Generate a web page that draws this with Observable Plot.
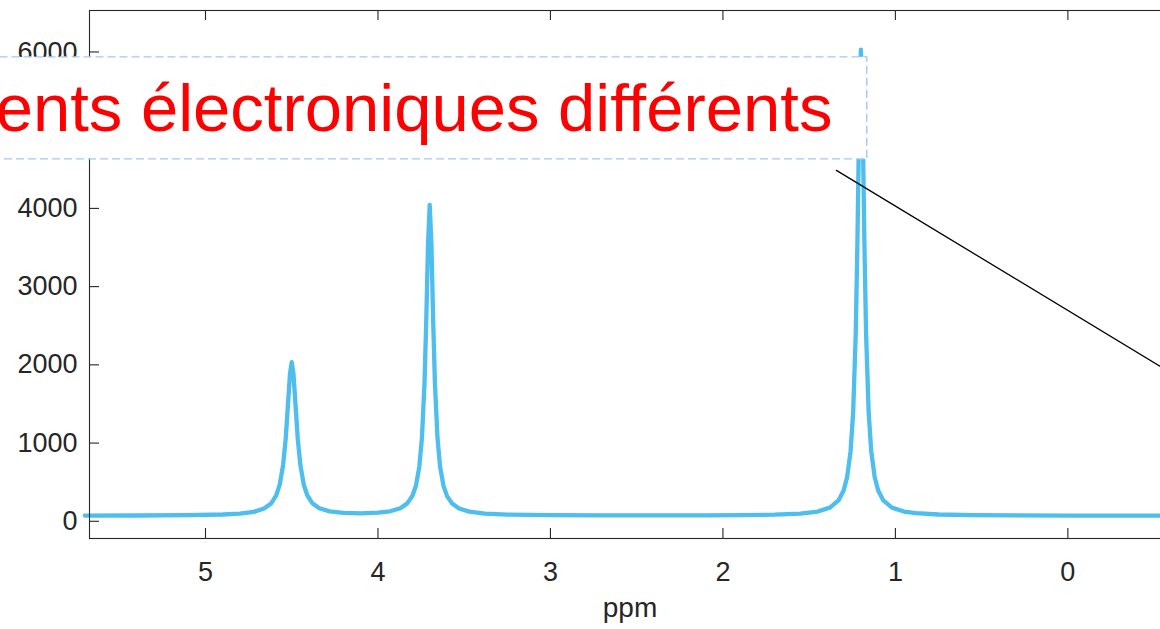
<!DOCTYPE html>
<html>
<head>
<meta charset="utf-8">
<script src="https://cdn.jsdelivr.net/npm/d3@7"></script>
<script src="https://cdn.jsdelivr.net/npm/@observablehq/plot@0.6"></script>
<style>
  html, body { margin: 0; padding: 0; background: #fff; overflow: hidden; }
  #chart { width: 1160px; height: 629px; overflow: hidden; }
  #chart svg { display: block; max-width: none !important; }
</style>
</head>
<body>
<div id="chart"></div>
<script>
// 1H NMR spectrum: chemical shift (ppm) and signal intensity
const ppm = [5.70, 5.4, 5.1, 4.9, 4.8, 4.72, 4.66, 4.62, 4.59, 4.57, 4.55, 4.535, 4.52, 4.51, 4.50,
  4.49, 4.48, 4.465, 4.45, 4.43, 4.41, 4.38, 4.34, 4.28, 4.2, 4.1, 4.0, 3.93, 3.87, 3.83, 3.80,
  3.78, 3.76, 3.745, 3.73, 3.72, 3.71, 3.70, 3.69, 3.68, 3.67, 3.655, 3.64, 3.62, 3.60, 3.57,
  3.53, 3.47, 3.38, 3.25, 3.0, 2.7, 2.4, 2.1, 1.9, 1.7, 1.55, 1.45, 1.38, 1.33, 1.30, 1.28,
  1.26, 1.245, 1.23, 1.22, 1.21, 1.20, 1.19, 1.18, 1.17, 1.155, 1.14, 1.12, 1.10, 1.07, 1.02,
  0.95, 0.88, 0.75, 0.55, 0.3, 0.0, -0.3, -0.6];
const intensity = [73, 74, 78, 87, 99, 121, 163, 227, 331, 466, 719, 1054, 1552, 1886, 2034,
  1887, 1552, 1055, 720, 467, 333, 230, 166, 127, 108, 102, 110, 128, 167, 229, 327,
  454, 703, 1068, 1777, 2568, 3533, 4044, 3533, 2568, 1777, 1068, 701, 453, 325, 226,
  164, 123, 99, 86, 78, 75, 75, 76, 78, 85, 99, 125, 175, 267, 395, 563,
  893, 1391, 2397, 3588, 5149, 6031, 5149, 3588, 2397, 1391, 893, 563, 395, 267, 175,
  125, 104, 87, 79, 75, 73, 72, 71];

// Axis ticks
const xTicks = [0, 1, 2, 3, 4, 5];
const yTicks = [0, 1000, 2000, 3000, 4000, 5000, 6000];
const xLabel = ["ppm"];

// Annotation: boxed caption and leader line, in data coordinates
const noteText = ["Environnements électroniques différents"];
const noteBoxPpm = [8, 1.163];
const noteBoxInt = [4627, 5931];
const noteTextAt = [1.365, 5260];
const leaderPpm = [1.342, -0.62];
const leaderInt = [4486, 1868];

const spectrum = ppm.map((p, i) => ({ppm: p, intensity: intensity[i]}));
const leader = leaderPpm.map((p, i) => ({ppm: p, intensity: leaderInt[i]}));
const box = [{x1: noteBoxPpm[0], x2: noteBoxPpm[1], y1: noteBoxInt[0], y2: noteBoxInt[1]}];

const font = "'Liberation Sans', Arial, Helvetica, sans-serif";
const ink = "#262626";
const W = 1180, H = 629, mL = 89, mR = 10, mT = 10, mB = 91;
const innerW = W - mL - mR, innerH = H - mT - mB, tickLen = 10;

const chart = Plot.plot({
  width: W,
  height: H,
  marginLeft: mL,
  marginRight: mR,
  marginTop: mT,
  marginBottom: mB,
  style: {fontFamily: font, fontSize: "27px", background: "#fff", color: ink},
  x: {domain: [5.6725, -0.595], label: null},
  y: {domain: [-220, 6530], label: null},
  marks: [
    Plot.line(spectrum, {x: "ppm", y: "intensity", stroke: "#4DBEEE", strokeWidth: 4.3, strokeLinejoin: "round"}),
    // box outline and inward ticks on all four sides
    Plot.frame({stroke: ink, strokeWidth: 1.1}),
    Plot.tickX(xTicks, {x: d => d, insetTop: innerH - tickLen, stroke: ink, strokeWidth: 1.1}),
    Plot.tickX(xTicks, {x: d => d, insetBottom: innerH - tickLen, stroke: ink, strokeWidth: 1.1}),
    Plot.tickY(yTicks, {y: d => d, insetRight: innerW - tickLen, stroke: ink, strokeWidth: 1.1}),
    Plot.tickY(yTicks, {y: d => d, insetLeft: innerW - tickLen, stroke: ink, strokeWidth: 1.1}),
    Plot.axisX({ticks: xTicks, tickSize: 0, tickPadding: 23, tickFormat: "d", label: null, fill: ink}),
    Plot.axisY({ticks: yTicks, tickSize: 0, tickPadding: 12, tickFormat: "d", label: null, fill: ink}),
    Plot.text(xLabel, {frameAnchor: "bottom", dy: 78, text: d => d, fontSize: 28, fill: ink}),
    // caption box sits on top of the axes, then the caption and its leader line
    Plot.rect(box, {x1: "x1", x2: "x2", y1: "y1", y2: "y2", fill: "#fff", stroke: "#A6C6F7",
      strokeWidth: 1.4, strokeDasharray: "8,4"}),
    Plot.text(noteText, {x: () => noteTextAt[0], y: () => noteTextAt[1], text: d => d,
      textAnchor: "end", fill: "#FF0000", fontSize: 67}),
    Plot.line(leader, {x: "ppm", y: "intensity", stroke: "#000", strokeWidth: 1.3})
  ]
});

document.getElementById("chart").appendChild(chart);
</script>
</body>
</html>
